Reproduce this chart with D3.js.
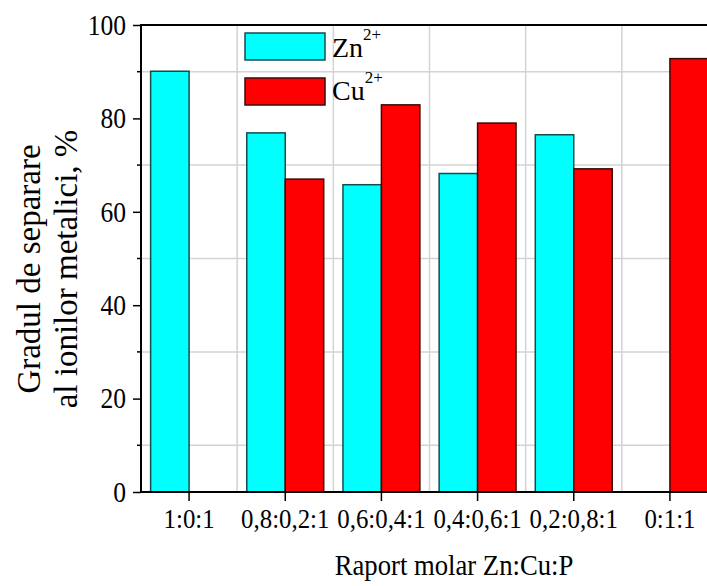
<!DOCTYPE html>
<html>
<head>
<meta charset="utf-8">
<script src="https://cdn.jsdelivr.net/npm/d3@7"></script>
<style>
  body { margin: 0; background: #fff; }
  svg text { font-family: "Liberation Serif", "Times New Roman", Times, "DejaVu Serif", serif; fill: #000; }
</style>
</head>
<body>
<svg id="chart" width="707" height="586"></svg>
<script>
// data
const categories = ["1:0:1", "0,8:0,2:1", "0,6:0,4:1", "0,4:0,6:1", "0,2:0,8:1", "0:1:1"];
const seriesNames = ["Zn", "Cu"];
const znValues = [90.1, 76.9, 65.8, 68.2, 76.5, 0];
const cuValues = [0, 67.0, 82.9, 79.0, 69.2, 92.8];
const yMajorTicks = [0, 20, 40, 60, 80, 100];
const yMinorTicks = [10, 30, 50, 70, 90];

const svg = d3.select("#chart");
const plotLeft = 141, plotTop = 25, plotBottom = 492, plotRight = 718;
const serif = '"Liberation Serif", "Times New Roman", Times, "DejaVu Serif", serif';

//scales
let xscale = d3.scaleBand().domain(categories).range([plotLeft, plotRight]).padding(0);
let subscale = d3.scaleBand().domain(seriesNames)
    .range([xscale.bandwidth() * 0.1, xscale.bandwidth() * 0.9]).padding(0);
let yscale = d3.scaleLinear().domain([0, 100]).range([plotBottom, plotTop]);
let colors = {Zn: "#00ffff", Cu: "#ff0000"};
let strokes = {Zn: "#174c4c", Cu: "#3a0a0a"};

//grid lines
let grid = svg.append("g");
grid.selectAll("line.h").data(yMinorTicks).enter().append("line")
    .attr("x1", plotLeft).attr("x2", 707)
    .attr("y1", d => yscale(d)).attr("y2", d => yscale(d))
    .style("stroke", "#d3d3d3").style("stroke-width", 1.5);
grid.selectAll("line.v").data(categories.slice(1)).enter().append("line")
    .attr("x1", d => xscale(d)).attr("x2", d => xscale(d))
    .attr("y1", plotTop).attr("y2", plotBottom)
    .style("stroke", "#d3d3d3").style("stroke-width", 1.5);

//bars
let rows = categories.map((c, i) => ({cat: c, Zn: znValues[i], Cu: cuValues[i]}));
let groups = svg.append("g").selectAll("g").data(rows).enter().append("g")
    .attr("transform", d => `translate(${xscale(d.cat)},0)`);
groups.selectAll("rect")
    .data(d => seriesNames.map(s => ({key: s, value: d[s]})))
    .enter().append("rect")
    .attr("x", d => subscale(d.key))
    .attr("width", subscale.bandwidth())
    .attr("y", d => yscale(d.value))
    .attr("height", d => plotBottom - yscale(d.value))
    .style("fill", d => colors[d.key])
    .style("stroke", d => strokes[d.key])
    .style("stroke-width", 1.5);

//axes (the original text is a little narrow, so squeeze it horizontally)
let yaxis = d3.axisLeft(yscale).tickValues(yMajorTicks).tickSize(8).tickPadding(9);
let yaxisG = svg.append("g").attr("transform", `translate(${plotLeft},0)`).call(yaxis);
yaxisG.attr("font-family", serif);
yaxisG.select(".domain").remove();
yaxisG.selectAll("text").style("font-size", "29px").style("font-family", serif)
    .attr("transform", "scale(0.88,1)");
yaxisG.selectAll("line").style("stroke-width", 1.5);
svg.append("g").selectAll("line").data(yMinorTicks).enter().append("line")
    .attr("x1", plotLeft - 4).attr("x2", plotLeft)
    .attr("y1", d => yscale(d)).attr("y2", d => yscale(d))
    .style("stroke", "#000").style("stroke-width", 1.5);

let xaxis = d3.axisBottom(xscale).tickSize(9).tickPadding(8);
let xaxisG = svg.append("g").attr("transform", `translate(0,${plotBottom})`).call(xaxis);
xaxisG.attr("font-family", serif);
xaxisG.select(".domain").remove();
xaxisG.selectAll("text").style("font-size", "27px").style("font-family", serif)
    .attr("transform", "scale(0.92,1)");
xaxisG.selectAll("line").style("stroke-width", 1.5);

//frame lines
svg.append("line").attr("x1", plotLeft).attr("x2", plotLeft).attr("y1", plotTop - 1).attr("y2", plotBottom + 1)
    .style("stroke", "#000").style("stroke-width", 2);
svg.append("line").attr("x1", plotLeft).attr("x2", 707).attr("y1", plotBottom).attr("y2", plotBottom)
    .style("stroke", "#000").style("stroke-width", 2);
svg.append("line").attr("x1", plotLeft).attr("x2", 707).attr("y1", plotTop).attr("y2", plotTop)
    .style("stroke", "#000").style("stroke-width", 2);

//legend
let legend = svg.append("g").attr("transform", "translate(245,33)");
seriesNames.forEach((s, i) => {
    let g = legend.append("g").attr("transform", `translate(0,${i * 45})`);
    g.append("rect").attr("width", 80).attr("height", 27)
        .style("fill", colors[s]).style("stroke", strokes[s]).style("stroke-width", 1.5);
    let t = g.append("text").attr("x", 87).attr("y", 24 - i * 2)
        .style("font-size", "28px").style("font-family", serif);
    t.append("tspan").text(s);
    t.append("tspan").attr("dy", -17).style("font-size", "17px").text("2+");
});

//axis titles
svg.append("text")
    .attr("transform", "translate(454,575) scale(0.89,1)")
    .attr("text-anchor", "middle")
    .style("font-size", "30px").style("font-family", serif)
    .text("Raport molar Zn:Cu:P");
let ytitle = svg.append("text")
    .attr("transform", "translate(0,269) rotate(-90)")
    .attr("text-anchor", "middle")
    .style("font-size", "33px").style("font-family", serif);
ytitle.append("tspan").attr("x", 0).attr("y", 40).text("Gradul de separare");
ytitle.append("tspan").attr("x", 0).attr("y", 77).text("al ionilor metalici, %");
</script>
</body>
</html>
